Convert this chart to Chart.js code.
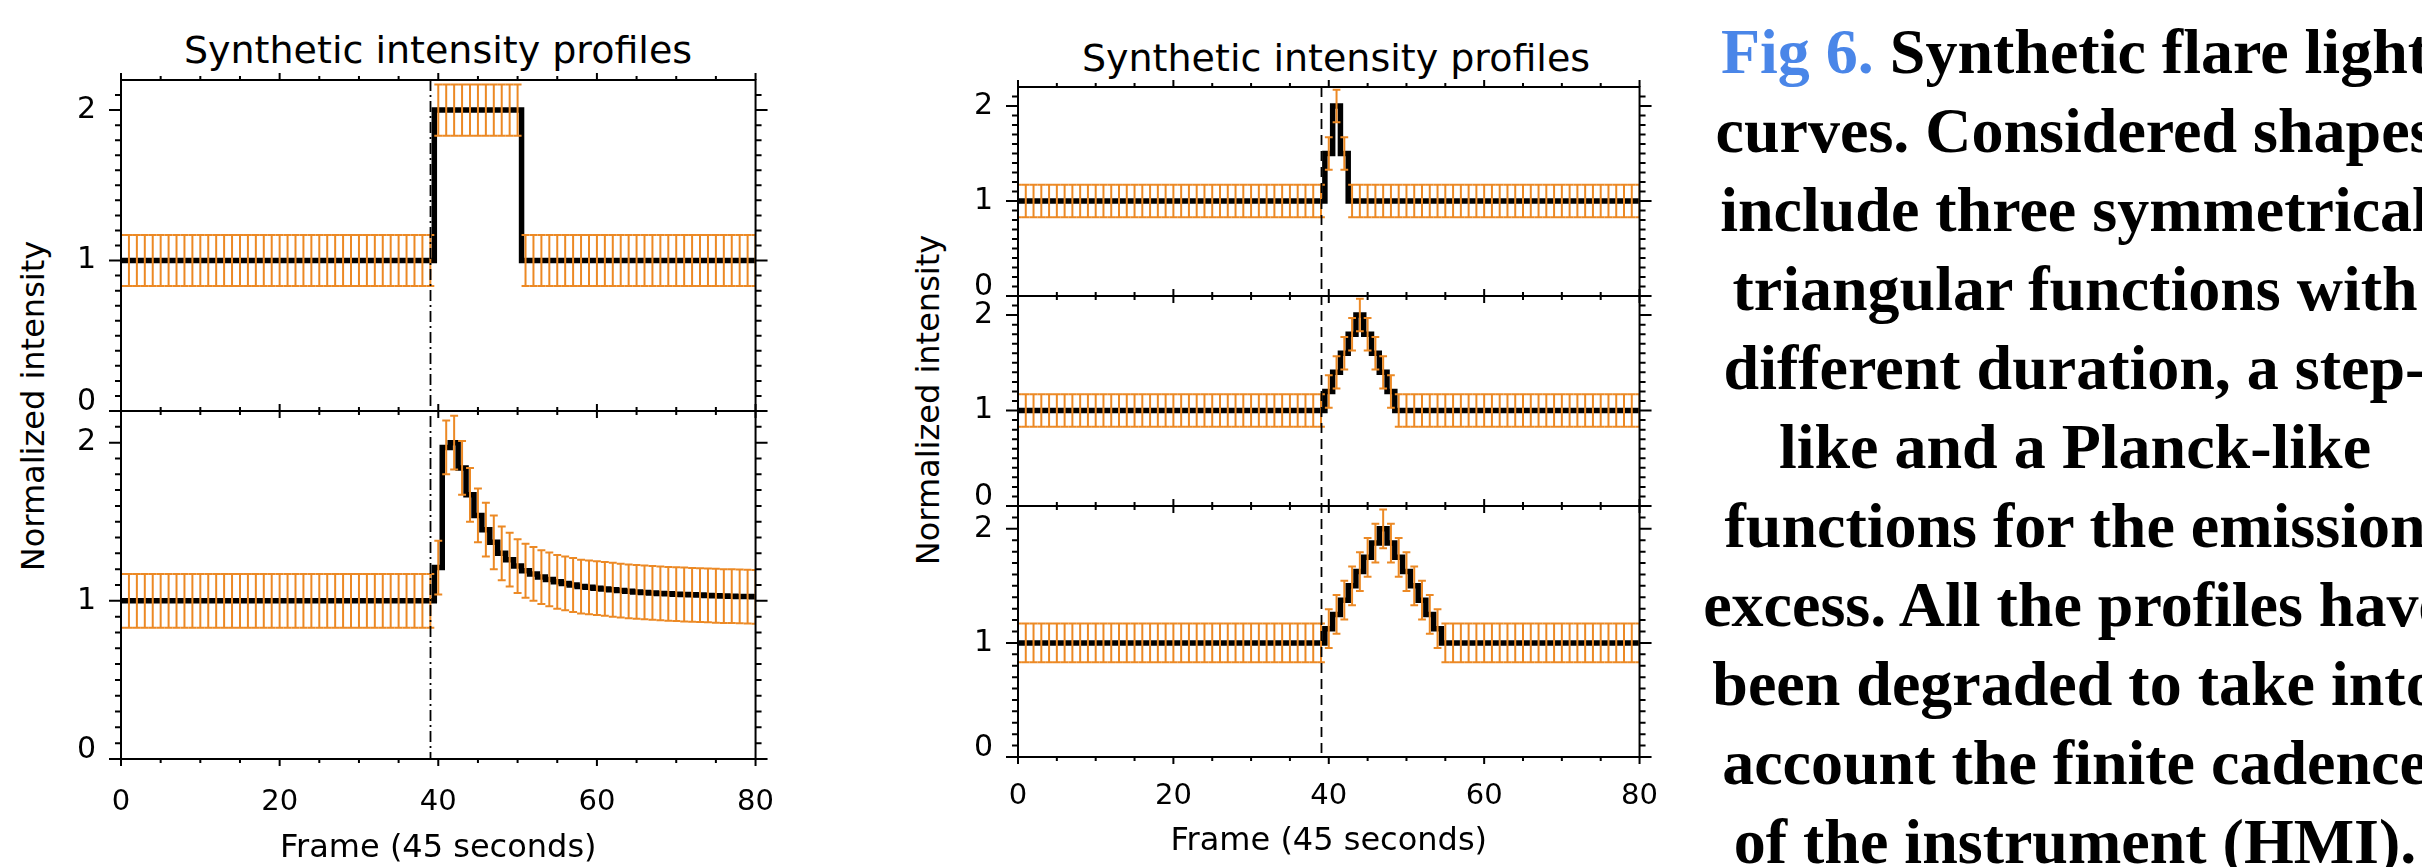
<!DOCTYPE html>
<html>
<head>
<meta charset="utf-8">
<script src="https://cdn.jsdelivr.net/npm/chart.js@4.4.1/dist/chart.umd.min.js"></script>
<style>
  html, body { margin: 0; padding: 0; background: #fff; }
  body { width: 2422px; height: 867px; position: relative; overflow: hidden; font-family: "DejaVu Sans", sans-serif; color: #000; }
  canvas { position: absolute; top: 0; }
  .title { position: absolute; font-size: 38px; white-space: nowrap; transform: translate(-50%, -50%); }
  .ytitle { position: absolute; font-size: 32px; white-space: nowrap; transform: translate(-50%, -50%) rotate(-90deg); }
  .caption { position: absolute; left: 1675px; top: 12px; width: 800px; text-align: center; white-space: nowrap;
             font-family: "Liberation Serif", "Times New Roman", serif; font-weight: bold; font-size: 64px; line-height: 79px; }
  .caption .fig { color: rgb(74, 134, 232); }
</style>
</head>
<body>
<div class="title" style="left:438px; top:50px;">Synthetic intensity profiles</div>
<div class="title" style="left:1336px; top:58px;">Synthetic intensity profiles</div>
<div class="ytitle" style="left:33px; top:406px;">Normalized intensity</div>
<div class="ytitle" style="left:928px; top:400px;">Normalized intensity</div>

<canvas id="leftChart" width="800" height="867" style="left:0px;"></canvas>
<canvas id="rightChart" width="800" height="867" style="left:880px;"></canvas>

<div class="caption"><span class="fig">Fig 6.</span> Synthetic flare light<br>curves. Considered shapes<br>include three symmetrical<br>triangular functions with<br>different duration, a step-<br>like and a Planck-like<br>functions for the emission<br>excess. All the profiles have<br>been degraded to take into<br>account the finite cadence<br>of the instrument (HMI).</div>

<script>
// frame index (45 s cadence), 0..80
const frames = [
  0, 1, 2, 3, 4, 5, 6, 7, 8, 9, 10, 11, 12, 13, 14, 15, 16, 17, 18, 19,
  20, 21, 22, 23, 24, 25, 26, 27, 28, 29, 30, 31, 32, 33, 34, 35, 36, 37, 38, 39,
  40, 41, 42, 43, 44, 45, 46, 47, 48, 49, 50, 51, 52, 53, 54, 55, 56, 57, 58, 59,
  60, 61, 62, 63, 64, 65, 66, 67, 68, 69, 70, 71, 72, 73, 74, 75, 76, 77, 78, 79, 80
];
const onsetFrame = 39;
const sigma = 0.17;
const xTickLabels = [0, 20, 40, 60, 80];
const yTickLabels = [0, 1, 2];

// left column: step-like and Planck-like
const stepProfile = [
  1, 1, 1, 1, 1, 1, 1, 1, 1, 1,   1, 1, 1, 1, 1, 1, 1, 1, 1, 1,
  1, 1, 1, 1, 1, 1, 1, 1, 1, 1,   1, 1, 1, 1, 1, 1, 1, 1, 1, 1,
  2, 2, 2, 2, 2, 2, 2, 2, 2, 2,   2, 1, 1, 1, 1, 1, 1, 1, 1, 1,
  1, 1, 1, 1, 1, 1, 1, 1, 1, 1,   1, 1, 1, 1, 1, 1, 1, 1, 1, 1,
  1
];
const planckProfile = [
  1, 1, 1, 1, 1, 1, 1, 1, 1, 1,   1, 1, 1, 1, 1, 1, 1, 1, 1, 1,
  1, 1, 1, 1, 1, 1, 1, 1, 1, 1,   1, 1, 1, 1, 1, 1, 1, 1, 1, 1,
  1.21, 1.97, 2.00, 1.84, 1.67, 1.54, 1.45, 1.37, 1.30, 1.26,
  1.22, 1.19, 1.17, 1.15, 1.135, 1.12, 1.11, 1.10, 1.09, 1.085,
  1.08, 1.075, 1.07, 1.065, 1.06, 1.056, 1.053, 1.05, 1.047, 1.044,
  1.042, 1.040, 1.038, 1.036, 1.034, 1.032, 1.030, 1.029, 1.028, 1.027,
  1.025
];

// right column: symmetrical triangles of increasing duration
const triShort = [
  1, 1, 1, 1, 1, 1, 1, 1, 1, 1,   1, 1, 1, 1, 1, 1, 1, 1, 1, 1,
  1, 1, 1, 1, 1, 1, 1, 1, 1, 1,   1, 1, 1, 1, 1, 1, 1, 1, 1, 1,
  1.5, 2, 1.5, 1, 1, 1, 1, 1, 1, 1,   1, 1, 1, 1, 1, 1, 1, 1, 1, 1,
  1, 1, 1, 1, 1, 1, 1, 1, 1, 1,   1, 1, 1, 1, 1, 1, 1, 1, 1, 1,
  1
];
const triMedium = [
  1, 1, 1, 1, 1, 1, 1, 1, 1, 1,   1, 1, 1, 1, 1, 1, 1, 1, 1, 1,
  1, 1, 1, 1, 1, 1, 1, 1, 1, 1,   1, 1, 1, 1, 1, 1, 1, 1, 1, 1,
  1.2, 1.4, 1.6, 1.8, 2.0, 1.8, 1.6, 1.4, 1.2, 1,   1, 1, 1, 1, 1, 1, 1, 1, 1, 1,
  1, 1, 1, 1, 1, 1, 1, 1, 1, 1,   1, 1, 1, 1, 1, 1, 1, 1, 1, 1,
  1
];
const triLong = [
  1, 1, 1, 1, 1, 1, 1, 1, 1, 1,   1, 1, 1, 1, 1, 1, 1, 1, 1, 1,
  1, 1, 1, 1, 1, 1, 1, 1, 1, 1,   1, 1, 1, 1, 1, 1, 1, 1, 1, 1,
  1.125, 1.25, 1.375, 1.5, 1.625, 1.75, 1.875, 2.0, 1.875, 1.75,
  1.625, 1.5, 1.375, 1.25, 1.125, 1, 1, 1, 1, 1,
  1, 1, 1, 1, 1, 1, 1, 1, 1, 1,   1, 1, 1, 1, 1, 1, 1, 1, 1, 1,
  1
];

const FONT = '"DejaVu Sans", sans-serif';
const ERR_COLOR = 'rgb(236, 137, 36)';

// IDL-like frame: boxes, outward ticks, error bars, onset marker
const panelDecor = {
  id: 'panelDecor',
  beforeDraw(chart) {
    // the "0" label sits a bit above its tick, like in the original plots
    Object.values(chart.scales).forEach(s => {
      if (s.axis !== 'y') return;
      s.getLabelItems().forEach(it => {
        if (it.label === '0' && !it._nudged) {
          it._nudged = true;
          it.options.translation[1] -= 9;
        }
      });
    });
  },
  afterDatasetsDraw(chart, args, opts) {
    const ctx = chart.ctx, xs = chart.scales.x, area = chart.chartArea;
    chart.data.datasets.forEach(ds => {
      const ys = chart.scales[ds.yAxisID];
      ctx.save();
      ctx.beginPath();
      ctx.rect(area.left, ys.top, area.right - area.left, ys.bottom - ys.top);
      ctx.clip();
      ctx.strokeStyle = ERR_COLOR;
      ctx.lineWidth = 2;
      ds.data.forEach(p => {
        const x = xs.getPixelForValue(p.x);
        const xl = xs.getPixelForValue(p.x - 0.5), xr = xs.getPixelForValue(p.x + 0.5);
        const yt = ys.getPixelForValue(p.y + sigma), yb = ys.getPixelForValue(p.y - sigma);
        ctx.beginPath();
        ctx.moveTo(x, yt); ctx.lineTo(x, yb);
        ctx.moveTo(xl, yt); ctx.lineTo(xr, yt);
        ctx.moveTo(xl, yb); ctx.lineTo(xr, yb);
        ctx.stroke();
      });
      ctx.restore();
    });
    // onset marker
    const xo = Math.round(xs.getPixelForValue(onsetFrame)) + 0.5;
    ctx.save();
    ctx.strokeStyle = '#000';
    ctx.lineWidth = 1.8;
    ctx.setLineDash(opts.onsetDash || [10, 6]);
    ctx.beginPath();
    ctx.moveTo(xo, area.top);
    ctx.lineTo(xo, area.bottom);
    ctx.stroke();
    ctx.restore();
  },
  afterDraw(chart) {
    const ctx = chart.ctx, xs = chart.scales.x, area = chart.chartArea;
    ctx.save();
    ctx.strokeStyle = '#000';
    ctx.lineWidth = 2;
    Object.values(chart.scales).forEach(ys => {
      if (ys.axis !== 'y') return;
      const t = ys.top, b = ys.bottom, l = area.left, r = area.right;
      ctx.strokeRect(l, t, r - l, b - t);
      ctx.beginPath();
      for (let k = 0; k < 22; k++) {
        const y = ys.getPixelForValue(k / 10);
        const len = k % 10 === 0 ? 12 : 6;
        ctx.moveTo(l, y); ctx.lineTo(l - len, y);
        ctx.moveTo(r, y); ctx.lineTo(r + len, y);
      }
      for (let f = 0; f <= 80; f += 5) {
        const x = xs.getPixelForValue(f);
        const len = f % 20 === 0 ? 7 : 4;
        ctx.moveTo(x, t); ctx.lineTo(x, t - len);
        ctx.moveTo(x, b); ctx.lineTo(x, b + len);
      }
      ctx.stroke();
    });
    ctx.restore();
  }
};

function lineSet(values, axisId) {
  return {
    data: frames.map((f, i) => ({ x: f, y: values[i] })),
    yAxisID: axisId,
    borderColor: '#000',
    borderWidth: 5.5,
    borderJoinStyle: 'miter',
    stepped: 'middle',
    pointRadius: 0,
    fill: false
  };
}

function yScale(stackWeight, weight) {
  return {
    type: 'linear',
    position: 'left',
    stack: 'col',
    stackWeight: stackWeight,
    weight: weight,
    min: 0,
    max: 2.2,
    afterBuildTicks(s) { s.ticks = yTickLabels.map(v => ({ value: v })); },
    ticks: { padding: 25, color: '#000', font: { family: FONT, size: 30 } },
    grid: { display: false, drawTicks: false },
    border: { display: false },
    afterFit(s) { s.width = 70; }
  };
}

function xScale(titlePad, tickPad, height) {
  return {
    type: 'linear',
    position: 'bottom',
    min: 0,
    max: 80,
    afterBuildTicks(s) { s.ticks = xTickLabels.map(v => ({ value: v })); },
    ticks: { padding: tickPad, maxRotation: 0, autoSkip: false, color: '#000', font: { family: FONT, size: 29 } },
    grid: { display: false, drawTicks: false },
    border: { display: false },
    title: { display: true, text: 'Frame (45 seconds)', color: '#000', font: { family: FONT, size: 32, lineHeight: 1 }, padding: { top: 0, bottom: titlePad } },
    afterFit(s) { s.height = height; }
  };
}

const baseOptions = {
  responsive: false,
  animation: false,
  events: [],
  plugins: { legend: { display: false }, tooltip: { enabled: false } }
};

new Chart(document.getElementById('leftChart'), {
  type: 'line',
  data: { datasets: [lineSet(stepProfile, 'yTop'), lineSet(planckProfile, 'yBottom')] },
  options: Object.assign({}, baseOptions, {
    layout: { padding: { left: 51, right: 44, top: 80, bottom: 0 } },
    plugins: Object.assign({}, baseOptions.plugins, { panelDecor: { onsetDash: [11, 4, 2, 4] } }),
    scales: {
      x: xScale(2, 26, 108),
      yTop: yScale(331, 2),
      yBottom: yScale(348, 1)
    }
  }),
  plugins: [panelDecor]
});

new Chart(document.getElementById('rightChart'), {
  type: 'line',
  data: { datasets: [lineSet(triShort, 'yTop'), lineSet(triMedium, 'yMid'), lineSet(triLong, 'yBottom')] },
  options: Object.assign({}, baseOptions, {
    layout: { padding: { left: 68, right: 26, top: 87, bottom: 0 } },
    plugins: Object.assign({}, baseOptions.plugins, { panelDecor: { onsetDash: [10, 6] } }),
    scales: {
      x: xScale(9, 22, 110),
      yTop: yScale(209, 3),
      yMid: yScale(210, 2),
      yBottom: yScale(251, 1)
    }
  }),
  plugins: [panelDecor]
});
</script>
</body>
</html>
